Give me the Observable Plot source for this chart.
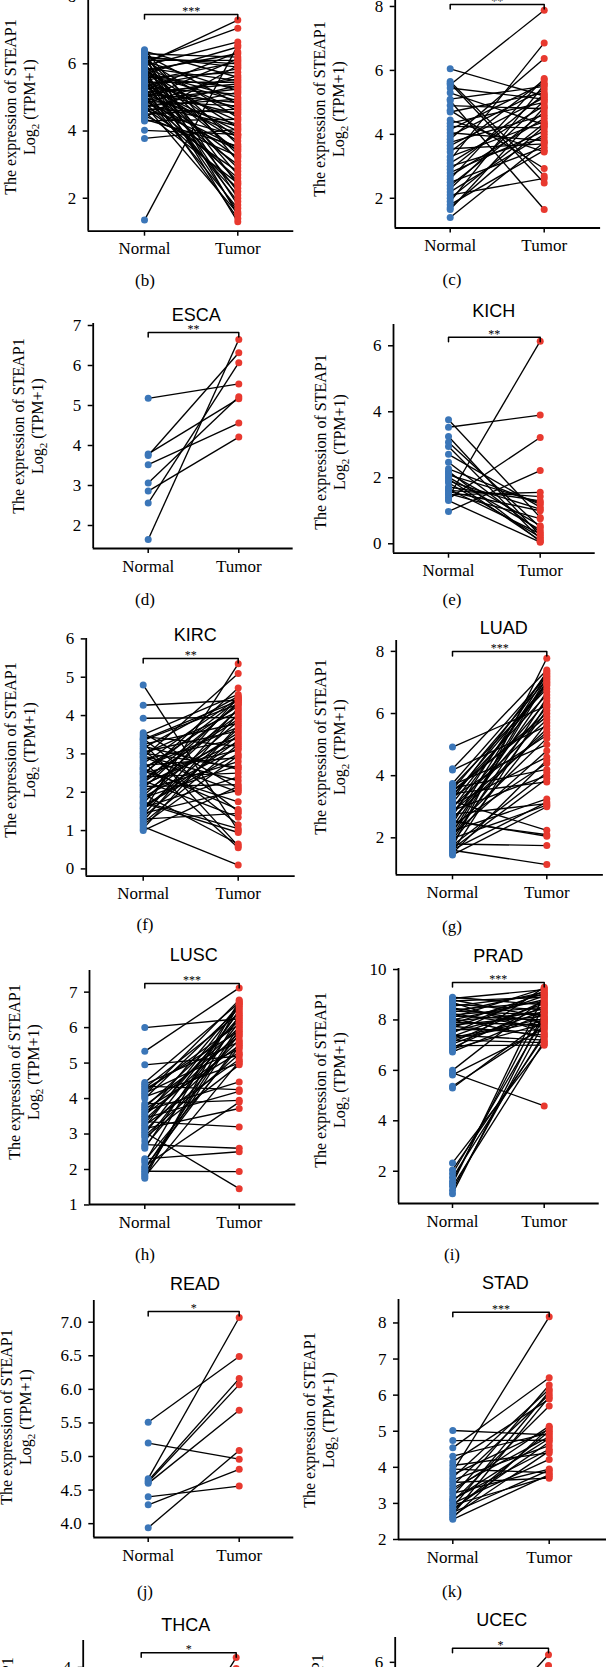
<!DOCTYPE html>
<html><head><meta charset="utf-8">
<script src="https://cdn.jsdelivr.net/npm/d3@7"></script>
<script src="https://cdn.jsdelivr.net/npm/@observablehq/plot@0.6"></script>
<style>
html,body{margin:0;padding:0;background:#fff;}
#fig{position:relative;width:606px;height:1667px;overflow:hidden;background:#fff;}
.abs{position:absolute;}
.title{font-family:"Liberation Sans",Arial,sans-serif;font-size:18px;color:#000;white-space:nowrap;transform:translate(-50%,-50%);}
.cap{font-family:"Liberation Serif",serif;font-size:17px;color:#000;white-space:nowrap;transform:translate(-50%,-50%);}
.ylab{font-family:"Liberation Serif",serif;font-size:16px;line-height:19px;color:#000;text-align:center;white-space:nowrap;transform:translate(-50%,-50%) rotate(-90deg);}
svg g[aria-label$="tick"] path{stroke-width:1.5;}
svg text{font-family:"Liberation Serif",serif;}
svg g[aria-label$="tick label"], svg g[aria-label$="tick label"] text{font-size:17px;font-family:"Liberation Serif",serif;fill:#000;}
</style></head><body><div id="fig"></div><script>
const groups = ["Normal", "Tumor"];
const yLabel1 = "The expression of STEAP1";

// (b)
const bNormal = [6.42,6.38,6.35,6.30,6.28,6.25,6.22,6.20,6.18,6.15,
 6.12,6.10,6.08,6.05,6.02,6.00,5.98,5.95,5.92,5.90,
 5.88,5.85,5.82,5.80,5.78,5.75,5.72,5.70,5.68,5.65,
 5.62,5.60,5.58,5.55,5.52,5.50,5.48,5.45,5.42,5.40,
 5.38,5.35,5.32,5.30,5.28,5.25,5.22,5.20,5.18,5.15,
 5.12,5.10,5.08,5.05,5.02,5.00,4.98,4.95,4.92,4.90,
 4.88,4.85,4.82,4.80,4.78,4.75,4.72,4.70,4.68,4.65,
 4.62,4.60,4.55,4.50,4.45,4.40,4.35,4.30,4.02,3.78,
 1.35];
const bTumor = [3.10,5.60,2.00,6.20,4.80,1.50,5.90,3.60,6.00,2.40,
 4.40,6.10,5.20,7.06,1.80,7.30,3.30,6.65,4.60,2.70,
 5.50,1.30,4.10,6.30,3.80,5.00,2.20,6.50,4.90,1.60,
 5.30,3.40,5.75,2.90,4.30,6.05,1.90,5.45,3.70,4.70,
 2.50,5.85,4.00,1.40,5.10,3.20,6.35,4.50,2.10,5.40,
 3.90,4.85,1.70,5.55,3.00,4.20,6.15,2.60,5.25,3.50,
 4.75,2.30,5.65,4.15,1.55,4.95,3.45,5.35,2.80,4.55,
 3.85,5.15,2.45,4.65,3.25,5.95,3.55,4.35,3.90,4.05,
 6.55];

// (c)
const cNormal = [6.05,5.65,5.60,5.55,5.45,5.30,5.10,5.05,4.90,4.75,
 4.70,4.45,4.35,4.25,4.15,4.05,3.95,3.85,3.75,3.65,
 3.55,3.45,3.30,3.20,3.10,3.00,2.90,2.80,2.70,2.60,
 2.50,2.40,2.30,2.20,2.10,2.00,1.90,1.80,1.70,1.65,1.40];
const cTumor = [5.20,2.70,2.48,7.88,5.10,4.30,5.50,1.65,4.80,2.93,
 5.30,3.45,5.00,4.20,5.60,3.80,5.40,6.37,4.60,5.15,
 3.70,5.70,4.40,6.86,4.90,3.90,5.25,4.10,4.50,5.75,
 3.60,4.70,5.05,4.00,2.62,4.35,5.55,3.50,4.25,4.85,3.75];

// ESCA
const escaNormal = [5.18,3.79,3.75,3.52,3.06,2.86,2.56,1.65];
const escaTumor  = [5.54,5.17,6.32,4.56,5.22,4.21,6.07,6.65];

// KICH
const kichNormal = [3.76,3.53,3.25,3.08,2.95,2.71,2.47,2.27,2.20,2.15,
 2.09,2.02,1.97,1.90,1.85,1.72,1.66,1.62,1.58,1.52,
 1.48,1.41,1.36,1.31,0.98];
const kichTumor = [0.80,3.90,0.25,0.50,0.15,1.11,0.35,1.20,0.07,0.55,
 1.25,0.42,0.10,1.05,0.20,1.30,0.30,1.43,1.00,0.76,
 1.56,6.14,3.22,0.05,2.22];

// KIRC
const kircNormal = [4.80,4.27,3.93,
 3.55,3.50,3.45,3.40,3.35,3.30,3.25,3.20,3.15,3.10,
 3.05,3.00,2.95,2.90,2.85,2.80,2.75,2.70,2.65,2.60,
 2.55,2.50,2.45,2.40,2.35,2.30,2.25,2.20,2.15,2.10,
 2.05,2.00,1.95,1.90,1.85,1.80,1.75,1.70,1.65,1.60,
 1.55,1.50,1.45,1.40,1.35,1.30,1.25,1.20,1.15,1.10,
 1.05,1.00,
 3.38,2.62,2.18,1.72,3.02,2.48,1.88,2.92,2.28,1.58];
const kircTumor = [1.00,4.40,3.95,2.10,4.55,3.20,1.50,4.30,0.60,3.80,
 2.60,4.50,1.15,3.60,4.10,2.30,5.10,3.40,0.55,4.45,
 2.90,3.70,4.25,1.75,3.10,4.72,2.50,3.90,1.35,4.00,
 3.30,2.20,4.35,2.80,3.55,0.65,4.15,2.70,3.85,1.05,
 4.48,3.00,2.40,3.65,5.35,2.05,4.20,3.50,1.45,4.05,
 3.25,2.95,0.10,3.75,2.15,
 4.38,1.55,3.45,0.95,2.65,4.42,3.15,2.00,4.30,3.35];

// LUAD
const luadNormal = [4.92,4.22,4.18,
 3.75,3.70,3.65,3.60,3.55,
 3.48,3.42,3.36,3.30,3.24,3.18,3.12,3.06,3.00,2.94,
 2.88,2.82,2.76,2.70,2.64,2.58,2.52,2.46,2.40,2.34,
 2.28,2.22,2.16,2.10,2.04,1.98,1.92,1.86,1.80,
 1.75,1.70,1.65,1.60,1.55,1.50,1.45,
 2.85,2.55,3.35,2.05,1.62,3.52];
const luadTumor = [6.25,7.40,5.60,7.20,5.00,6.80,4.20,7.10,6.00,3.80,
 6.60,5.30,7.30,2.24,6.90,4.60,5.80,7.00,4.00,6.40,
 3.10,7.35,5.50,6.20,2.10,7.25,4.40,6.70,5.20,3.25,
 7.15,4.80,6.10,3.05,6.50,5.70,1.75,4.10,7.78,3.90,
 1.14,6.30,4.50,3.00,5.40,2.05,6.95,7.05,3.15,5.90];

// LUSC
const luscNormal = [6.00,5.33,4.95,
 4.45,4.40,4.35,4.30,4.25,4.20,4.15,4.10,4.05,4.00,
 3.85,3.80,3.75,3.70,3.65,3.60,3.55,3.50,3.45,3.40,
 3.35,3.30,3.25,3.20,3.15,3.10,3.05,3.00,2.95,2.90,
 2.80,2.70,2.65,2.60,
 2.30,2.25,2.20,2.10,2.05,2.00,1.95,1.90,1.85,1.80,1.75];
const luscTumor = [6.25,7.12,5.20,6.70,5.60,4.25,6.40,5.90,6.10,5.40,
 6.78,5.00,6.55,3.95,5.75,6.20,5.30,4.47,6.00,5.50,
 6.65,4.20,5.85,3.20,6.30,5.10,6.60,3.72,5.65,1.46,
 6.45,5.25,4.95,6.15,2.60,5.80,6.50,2.50,5.45,6.75,
 3.90,5.55,6.05,1.94,5.95,6.35,5.05,6.68];

// PRAD
const pradNormal = [8.90,8.85,8.80,8.75,8.70,8.62,8.55,8.48,8.40,
 8.35,8.30,8.25,8.20,8.15,8.10,8.05,8.00,7.95,7.90,7.85,7.80,7.75,7.70,
 7.62,7.55,7.48,7.40,7.35,7.30,7.25,7.20,
 7.12,7.05,6.98,6.90,6.85,6.80,6.73,
 6.00,5.90,5.82,5.37,5.30,
 2.33,2.05,1.90,1.75,1.60,1.50,1.40,1.25,1.11];
const pradTumor = [8.60,9.20,8.10,8.90,7.50,8.40,9.00,7.90,8.70,8.20,
 9.10,7.70,8.50,8.00,9.25,7.30,8.80,8.30,7.80,9.05,
 8.15,7.40,8.95,7.60,8.45,9.15,7.20,8.65,8.05,7.95,
 7.10,8.75,8.35,7.00,8.55,7.85,9.30,8.25,8.85,4.59,
 7.65,7.75,8.00,7.05,7.35,8.10,7.45,8.60,9.00,7.15,
 7.90,8.30];

// READ
const readNormal = [5.51,5.20,4.67,4.64,4.62,4.60,4.40,4.28,3.94];
const readTumor  = [6.49,4.96,7.07,6.16,6.07,5.69,4.56,4.81,5.09];

// STAD
const stadNormal = [5.02,4.74,4.54,4.31,4.15,4.05,3.95,3.88,3.80,3.72,
 3.65,3.58,3.50,3.42,3.35,3.28,3.20,3.12,3.05,3.00,
 2.95,2.90,2.85,2.80,2.75,2.70,2.65,2.60,2.56,3.10];
const stadTumor = [4.90,4.75,6.48,4.95,5.89,4.40,3.85,8.17,5.05,6.16,
 4.60,3.70,6.02,4.85,5.14,3.95,6.28,4.50,5.70,4.22,
 3.75,6.10,4.70,5.00,3.92,5.95,4.45,5.10,3.80,4.80];

// THCA
const thcaNormal = [0.85,2.10,1.80,2.50,1.40,2.90,2.20,1.60,3.10,2.70];
const thcaTumor  = [4.22,3.98,3.20,3.60,2.80,3.40,2.60,3.00,3.75,2.40];

// UCEC
const ucecNormal = [3.30,2.80,4.10,3.60,2.50,3.90,3.00,4.40,2.20,3.50];
const ucecTumor  = [6.21,5.91,5.20,4.80,5.50,4.40,5.00,4.60,3.90,5.30];

const panelTitles = ["", "", "ESCA", "KICH", "KIRC", "LUAD", "LUSC", "PRAD", "READ", "STAD", "THCA", "UCEC"];
const captions = ["(b)", "(c)", "(d)", "(e)", "(f)", "(g)", "(h)", "(i)", "(j)", "(k)", "", ""];
const signif = ["***", "**", "**", "**", "**", "***", "***", "***", "*", "***", "*", "*"];
const yDomains = [[1.02,8.3],[1.07,8.5],[1.425,7.05],[-0.285,6.645],[-0.19,6.01],[0.81,8.35],
  [1.013,7.61],[0.72,10.04],[3.794,7.323],[2.0,8.65],[0,4.6],[1.0,6.69]];
const yTicks = [[2,4,6,8],[2,4,6,8],[2,3,4,5,6,7],[0,2,4,6],[0,1,2,3,4,5,6],[2,4,6,8],
  [1,2,3,4,5,6,7],[2,4,6,8,10],[4,4.5,5,5.5,6,6.5,7],[2,3,4,5,6,7,8],[0,1,2,3,4],[2,3,4,5,6]];
const bracketLevels = [7.47,8.06,6.825,6.26,5.49,8.0,7.24,9.48,7.16,8.30,4.33,6.39];
const normals = [bNormal,cNormal,escaNormal,kichNormal,kircNormal,luadNormal,luscNormal,pradNormal,readNormal,stadNormal,thcaNormal,ucecNormal];
const tumors = [bTumor,cTumor,escaTumor,kichTumor,kircTumor,luadTumor,luscTumor,pradTumor,readTumor,stadTumor,thcaTumor,ucecTumor];

// layout (pixels): column, axis x, normal x, tumor x (relative to column), plot top/bottom (absolute)
const layout = [
 {col:0, axisX:87.7, nX:144,   tX:237.3, top:-14,    bot:230.7, titleX:0,     titleY:-50,   capY:281,   ylx:13,  yly:107},
 {col:1, axisX:91.7, nX:146.7, tX:240.7, top:-9.8,   bot:227.7, titleX:0,     titleY:-50,   capY:280,   ylx:322, yly:109},
 {col:0, axisX:92.7, nX:147.7, tX:238.3, top:323,    bot:548,   titleX:196.3, titleY:315,   capY:600,   ylx:21.7,yly:426},
 {col:1, axisX:90,   nX:145,   tX:236.7, top:324,    bot:552.7, titleX:493.7, titleY:310.7, capY:600,   ylx:323.7,yly:442},
 {col:0, axisX:85.7, nX:142.7, tX:237.7, top:638,    bot:875.7, titleX:195.3, titleY:635,   capY:925,   ylx:13.3,yly:750},
 {col:1, axisX:92.7, nX:149,   tX:243.3, top:640,    bot:874.3, titleX:503.7, titleY:628,   capY:926.7, ylx:323, yly:747},
 {col:0, axisX:89,   nX:144.3, tX:238.7, top:970,    bot:1204,  titleX:193.7, titleY:955,   capY:1255,  ylx:17.3,yly:1072},
 {col:1, axisX:95,   nX:149,   tX:240.7, top:968.3,  bot:1203.3,titleX:498.3, titleY:956,   capY:1255,  ylx:323, yly:1080},
 {col:0, axisX:93.3, nX:147.7, tX:238.7, top:1300,   bot:1537,  titleX:195,   titleY:1284,  capY:1592,  ylx:9,   yly:1417},
 {col:1, axisX:95,   nX:149.3, tX:245.7, top:1299.3, bot:1539.3,titleX:505.3, titleY:1283.3,capY:1591.7,ylx:312, yly:1420},
 {col:0, axisX:82.7, nX:140.7, tX:235.7, top:1640,   bot:1847,  titleX:185.7, titleY:1625,  capY:1900,  ylx:10,  yly:1745},
 {col:1, axisX:91.7, nX:149,   tX:245,   top:1636.7, bot:1841.5,titleX:501.7, titleY:1620,  capY:1900,  ylx:320, yly:1742}
];

const BLUE = "#3b76b8", RED = "#e8392f";
const COLW = 303;
const fig = document.getElementById("fig");

function addDiv(cls, html, x, y) {
  const d = document.createElement("div");
  d.className = "abs " + cls;
  d.innerHTML = html;
  d.style.left = x + "px";
  d.style.top = y + "px";
  fig.appendChild(d);
}

layout.forEach((L, k) => {
  const normal = normals[k], tumor = tumors[k];
  const dom = yDomains[k];
  const unit = L.tX - L.nX;
  const x0 = 1 - (L.nX - L.axisX) / unit;
  const x1 = 2.6;
  const right = L.tX + 0.6 * unit;
  const mt = 12, mb = 42;
  const plotH = L.bot - L.top;
  const pxPerUnit = plotH / (dom[1] - dom[0]);
  const tickD = 4.5 / pxPerUnit;
  const b = bracketLevels[k];
  const pairs = normal.map((v, i) => ({n: v, t: tumor[i]}));
  const bracket = [{x: 1, y: b - tickD}, {x: 1, y: b}, {x: 2, y: b}, {x: 2, y: b - tickD}];
  const fmt = k === 8 ? (d => d.toFixed(1)) : (d => String(d));
  const svg = Plot.plot({
    width: COLW, height: mt + plotH + mb,
    marginTop: mt, marginBottom: mb, marginLeft: L.axisX, marginRight: COLW - right,
    style: {fontFamily: '"Liberation Serif", serif', fontSize: "17px", color: "#000", background: "transparent", overflow: "visible"},
    x: {domain: [x0, x1], ticks: [1, 2], tickFormat: d => groups[d - 1], tickSize: 5, tickPadding: 6, label: null},
    y: {domain: dom, ticks: yTicks[k], tickFormat: fmt, tickSize: 5, tickPadding: 7, label: null},
    marks: [
      Plot.link(pairs, {x1: () => 1, y1: "n", x2: () => 2, y2: "t", stroke: "#000", strokeWidth: 1.35}),
      Plot.dot(normal, {x: () => 1, y: d => d, r: 3.5, fill: BLUE}),
      Plot.dot(tumor, {x: () => 2, y: d => d, r: 3.5, fill: RED}),
      Plot.line(bracket, {x: "x", y: "y", stroke: "#000", strokeWidth: 1.5}),
      Plot.text([signif[k]], {x: () => 1.5, y: () => b, text: d => d, dy: -3, fontSize: 12}),
      Plot.ruleX([x0], {stroke: "#000", strokeWidth: 1.8}),
      Plot.ruleY([dom[0]], {stroke: "#000", strokeWidth: 1.8})
    ]
  });
  svg.style.position = "absolute";
  svg.style.left = (L.col * COLW) + "px";
  svg.style.top = (L.top - mt) + "px";
  fig.appendChild(svg);
  if (panelTitles[k]) addDiv("title", panelTitles[k], L.titleX, L.titleY);
  if (captions[k]) addDiv("cap", captions[k], L.col ? 452 : 145, L.capY);
  addDiv("ylab", yLabel1 + "<br>Log<sub style='font-size:11px'>2</sub> (TPM+1)", L.ylx + 9.5, L.yly);
});
</script></body></html>
